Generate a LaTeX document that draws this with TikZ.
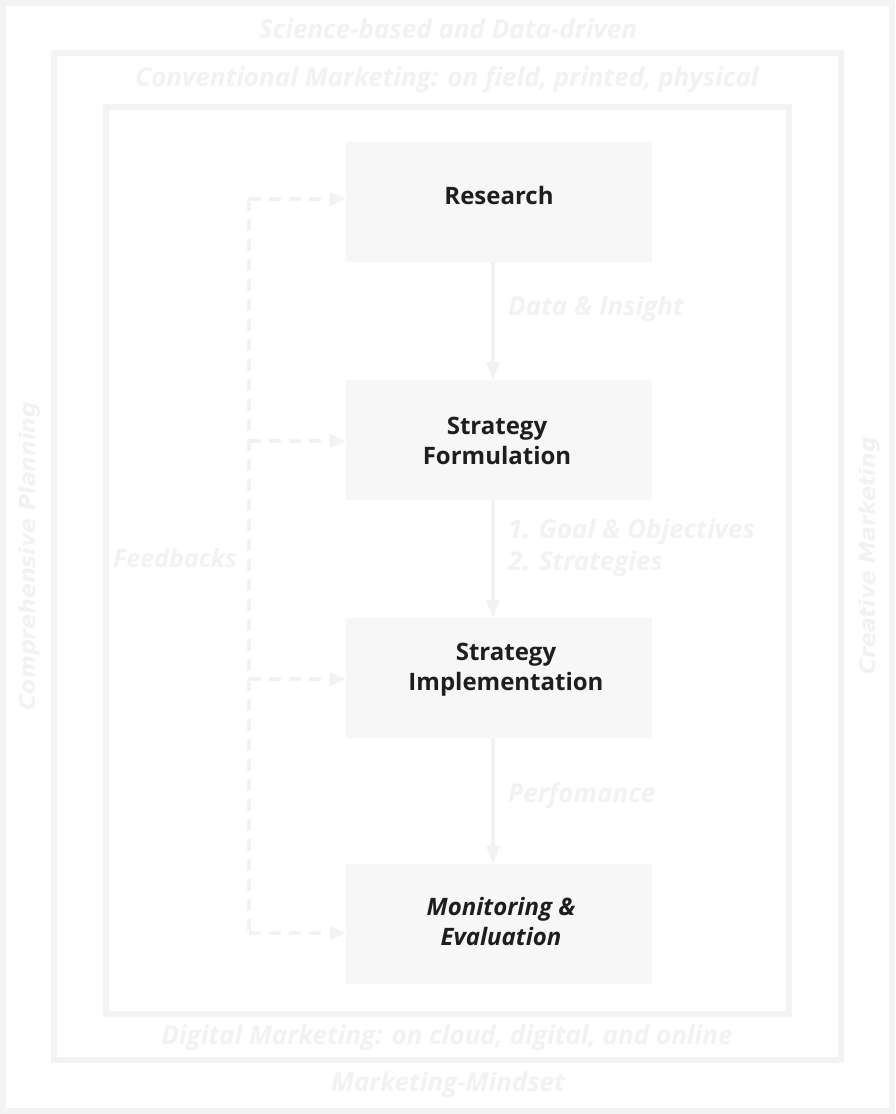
\documentclass[tikz,border=0pt]{standalone}
\usepackage{fontspec}
\setmainfont{Open Sans}
\newfontfamily\sidefont{DejaVu Sans}
\usetikzlibrary{arrows.meta}
\definecolor{framec}{HTML}{F3F3F3}
\definecolor{boxfill}{HTML}{F7F7F7}
\definecolor{faint}{HTML}{F2F2F2}
\definecolor{ink}{HTML}{1E1E1E}
\tikzset{
  frameline/.style={draw=framec, line width=6pt},
  box/.style={fill=boxfill, draw=none, minimum width=306pt, minimum height=120pt, inner sep=0pt},
  boxtext/.style={text=ink, font=\bfseries\fontsize{24}{30}\selectfont, align=center, inner sep=0pt},
  outerlbl/.style={text=faint, font=\bfseries\itshape\fontsize{26}{30}\selectfont, inner sep=0pt},
  sidelbl/.style={text=faint, font=\sidefont\bfseries\itshape\fontsize{22}{26}\selectfont, inner sep=0pt, rotate=90},
  flowlbl/.style={text=faint, font=\bfseries\itshape\fontsize{26}{32}\selectfont, inner sep=0pt, anchor=west, align=left},
  flow/.style={draw=faint, line width=3.5pt, -{Triangle[length=18pt,width=13pt]}},
  fbline/.style={draw=faint, line width=3.5pt, dash pattern=on 12pt off 8pt},
  fbarrow/.style={draw=faint, line width=3.5pt, dash pattern=on 12pt off 8pt, -{Triangle[length=16pt,width=13pt]}},
}
\begin{document}
\begin{tikzpicture}[x=1pt,y=-1pt]
\useasboundingbox (0,0) rectangle (895,1114);
\fill[white] (0,0) rectangle (895,1114);
% frames
\draw[frameline] (3,3) rectangle (892,1111);
\draw[frameline] (54,53) rectangle (841,1060);
\draw[frameline] (106,107) rectangle (789,1014);
% frame labels
\node (lblSci) [outerlbl] at (448,29) {Science-based and Data-driven};
\node (lblConv) [outerlbl] at (447,80) {Conventional Marketing: on field, printed, physical};
\node (lblDig) [outerlbl] at (447,1038) {Digital Marketing: on cloud, digital, and online};
\node (lblMind) [outerlbl] at (448,1085) {Marketing-Mindset};
\node (lblComp) [sidelbl] at (30,556) {Comprehensive Planning};
\node (lblCrea) [sidelbl] at (870,556) {Creative Marketing};
% boxes
\node (res) [box] at (499,202) {};
\node (sf) [box] at (499,440) {};
\node (si) [box] at (499,678) {};
\node (me) [box] at (499,924) {};
\node (resT) [boxtext] at (499,195) {Research};
\node (sfT) [boxtext] at (497,441) {Strategy\\Formulation};
\node (siT) [boxtext] at (506,670) {Strategy\\Implementation};
\node (meT) [boxtext, font=\bfseries\itshape\fontsize{24}{30}\selectfont] at (501,921) {Monitoring \&\\Evaluation};
% flow arrows
\draw[flow] ([xshift=-6pt]res.south) -- ([xshift=-6pt]sf.north);
\draw[flow] ([xshift=-6pt]sf.south) -- ([xshift=-6pt]si.north);
\draw[flow] ([xshift=-6pt]si.south) -- ([xshift=-6pt]me.north);
\node (lblData) [flowlbl] at (508,309) {Data \& Insight};
\node (lblGoal) [flowlbl] at (508,548) {1. Goal \& Objectives\\2. Strategies};
\node (lblPerf) [flowlbl] at (508,796) {Perfomance};
% feedbacks
\coordinate (fb1) at (249,199);
\coordinate (fb2) at (249,441);
\coordinate (fb3) at (249,679);
\coordinate (fb4) at (249,933);
\draw[fbline] (fb1) -- (fb4);
\draw[fbarrow] (fb1) -- (fb1 -| res.west);
\draw[fbarrow] (fb2) -- (fb2 -| sf.west);
\draw[fbarrow] (fb3) -- (fb3 -| si.west);
\draw[fbarrow] (fb4) -- (fb4 -| me.west);
\node (lblFb) [text=faint, font=\bfseries\itshape\fontsize{25}{30}\selectfont, inner sep=0pt] at (175,558) {Feedbacks};
\end{tikzpicture}
\end{document}
